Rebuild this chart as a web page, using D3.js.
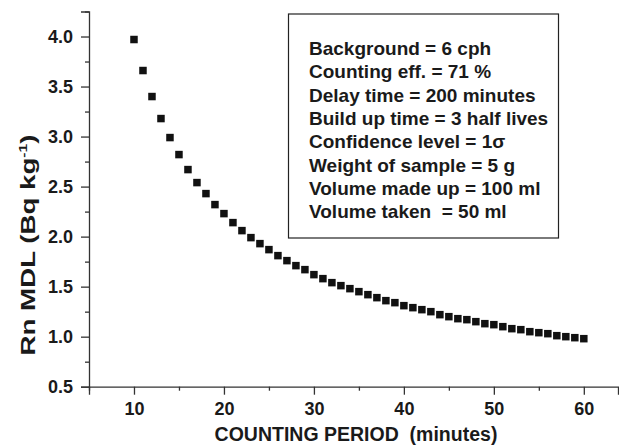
<!DOCTYPE html>
<html>
<head>
<meta charset="utf-8">
<script src="https://cdn.jsdelivr.net/npm/d3@7"></script>
<style>
  body { margin: 0; background: #fff; }
  text { font-family: "Liberation Sans", Arial, sans-serif; font-weight: bold; fill: #1a1a1a; white-space: pre; }
</style>
</head>
<body>
<div id="chart"></div>
<script>
// --- données ---
const minutes = [10, 11, 12, 13, 14, 15, 16, 17, 18, 19, 20, 21, 22, 23, 24, 25, 26, 27, 28, 29, 30,
  31, 32, 33, 34, 35, 36, 37, 38, 39, 40, 41, 42, 43, 44, 45, 46, 47, 48, 49, 50,
  51, 52, 53, 54, 55, 56, 57, 58, 59, 60];
const mdl = [3.97, 3.66, 3.40, 3.18, 2.99, 2.82, 2.67, 2.54, 2.43, 2.32, 2.23,
  2.14, 2.06, 1.99, 1.93, 1.87, 1.81, 1.76, 1.71, 1.67, 1.62,
  1.58, 1.54, 1.51, 1.48, 1.45, 1.42, 1.39, 1.36, 1.34, 1.31,
  1.29, 1.27, 1.25, 1.22, 1.20, 1.18, 1.17, 1.15, 1.13, 1.12,
  1.10, 1.08, 1.07, 1.05, 1.04, 1.03, 1.01, 1.00, 0.99, 0.98];
const xMajor = [10, 20, 30, 40, 50, 60];
const xMinor = [5, 15, 25, 35, 45, 55];
const yMajor = [0.5, 1.0, 1.5, 2.0, 2.5, 3.0, 3.5, 4.0];
const yMinor = [0.75, 1.25, 1.75, 2.25, 2.75, 3.25, 3.75, 4.25];
const notes = [
  "Background = 6 cph",
  "Counting eff. = 71 %",
  "Delay time = 200 minutes",
  "Build up time = 3 half lives",
  "Confidence level = 1\u03c3",
  "Weight of sample = 5 g",
  "Volume made up = 100 ml",
  "Volume taken  = 50 ml"
];

const width = 619, height = 448;

const svg = d3.select("#chart").append("svg")
  .attr("width", width)
  .attr("height", height);

const x = d3.scaleLinear().domain([5, 63.8]).range([89, 618]);
const y = d3.scaleLinear().domain([0.5, 4.25]).range([386.7, 11.5]);

// --- axes ---
const axisColor = "#333";

const gx = svg.append("g").attr("transform", `translate(0,${y(0.5)})`);
gx.call(d3.axisBottom(x).tickValues(xMajor).tickSize(8).tickPadding(8).tickFormat(d3.format("d")));
gx.append("g").call(d3.axisBottom(x).tickValues(xMinor).tickSize(4).tickFormat(""))
  .select(".domain").remove();

const gy = svg.append("g").attr("transform", `translate(${x(5)},0)`);
gy.call(d3.axisLeft(y).tickValues(yMajor).tickSize(8).tickPadding(8).tickFormat(d3.format(".1f")));
gy.append("g").call(d3.axisLeft(y).tickValues(yMinor).tickSize(4).tickFormat(""))
  .select(".domain").remove();

svg.selectAll(".domain").attr("stroke", axisColor).attr("stroke-width", 1.3);
svg.selectAll(".tick line").attr("stroke", axisColor).attr("stroke-width", 1.3);
svg.selectAll(".tick text")
  .style("font-family", "'Liberation Sans', Arial, sans-serif")
  .style("font-weight", "bold")
  .style("font-size", "18px")
  .attr("fill", "#1a1a1a");

// --- titres ---
svg.append("text")
  .attr("x", 356)
  .attr("y", 441)
  .attr("text-anchor", "middle")
  .style("font-size", "19.5px")
  .text("COUNTING PERIOD  (minutes)");

// titre vertical étiré dans le sens de la lecture, comme sur la figure
const yt = svg.append("text")
  .attr("transform", "translate(35,245) rotate(-90) scale(1.42,1)")
  .attr("text-anchor", "middle")
  .style("font-size", "19.5px");
yt.append("tspan").text("Rn MDL (Bq kg");
yt.append("tspan").attr("dy", -8).style("font-size", "11px").text("-1");
yt.append("tspan").attr("dy", 8).text(")");

// --- encadré ---
svg.append("rect")
  .attr("x", 288.5)
  .attr("y", 14)
  .attr("width", 270)
  .attr("height", 224)
  .attr("fill", "none")
  .attr("stroke", "#222")
  .attr("stroke-width", 1.2);

svg.append("g").selectAll("text")
  .data(notes)
  .join("text")
  .attr("x", 309)
  .attr("y", (d, i) => 55 + i * 23.3)
  .style("font-size", "19px")
  .text(d => d);

// --- points ---
const s = 7.5;
svg.append("g").selectAll("rect")
  .data(minutes)
  .join("rect")
  .attr("x", (d) => x(d) - s / 2)
  .attr("y", (d, i) => y(mdl[i]) - s / 2)
  .attr("width", s)
  .attr("height", s)
  .attr("fill", "#111");
</script>
</body>
</html>
